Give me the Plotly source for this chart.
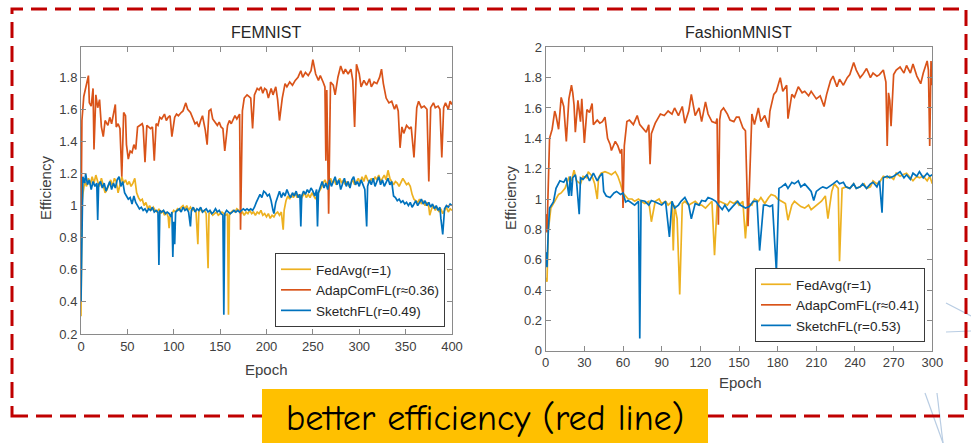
import plotly.graph_objects as go

# ---------------- data (epoch, efficiency) ----------------
FEM_NAMES = ["FedAvg(r=1)", "AdapComFL(r≈0.36)", "SketchFL(r=0.49)"]
FASH_NAMES = ["FedAvg(r=1)", "AdapComFL(r≈0.41)", "SketchFL(r=0.53)"]
FEM_XTICKS = [0, 50, 100, 150, 200, 250, 300, 350, 400]
FASH_XTICKS = [0, 30, 60, 90, 120, 150, 180, 210, 240, 270, 300]

FEM_FEDAVG = [(0,0.31),(1,1.0),(2,1.07),(4,1.15),(6,1.12),(8,1.17),(10,1.13),(12,1.18),(14,1.14),(16,1.19),(18,1.15),
 (20,1.12),(22,1.17),(24,1.13),(26,1.08),(28,1.10),(30,1.13),(32,1.16),(34,1.12),(36,1.17),(38,1.15),(40,1.08),
 (42,1.13),(44,1.18),(46,1.14),(48,1.16),(50,1.13),(52,1.15),(54,1.12),(56,1.14),(58,1.17),(60,1.08),(62,1.05),
 (64,1.03),(66,1.04),(68,1.0),(70,1.02),(72,0.98),(74,1.0),(76,0.97),(78,0.99),(80,0.97),(82,0.96),(84,0.98),
 (86,0.95),(88,0.97),(90,0.94),(92,0.96),(94,0.93),(95,0.86),(96,0.93),(98,0.95),(100,0.97),(102,0.96),(104,0.98),
 (106,0.97),(108,0.99),(110,1.0),(112,0.98),(114,1.0),(116,0.97),(118,0.99),(120,0.97),(122,0.98),(124,0.96),
 (126,0.76),(127,0.96),(129,0.98),(131,0.96),(133,0.97),(135,0.95),(137,0.61),(138,0.95),(140,0.96),(142,0.94),
 (144,0.95),(146,0.96),(148,0.94),(150,0.95),(152,0.96),(154,0.95),(156,0.94),(158,0.95),(159,0.32),(160,0.94),
 (162,0.96),(164,0.97),(166,0.96),(168,0.98),(170,0.97),(172,0.95),(174,0.96),(176,0.94),(178,0.96),(180,0.95),
 (182,0.97),(184,0.95),(186,0.96),(188,0.94),(190,0.96),(192,0.95),(194,0.97),(196,0.94),(198,0.95),(200,0.93),
 (202,0.95),(204,0.92),(206,0.94),(208,0.93),(210,0.95),(212,0.96),(214,0.94),(216,0.96),(218,0.85),(219,0.97),
 (221,1.03),(223,1.06),(225,1.04),(227,1.07),(229,1.05),(231,1.08),(233,1.05),(235,1.07),(237,1.04),(239,1.06),
 (241,1.08),(243,1.05),(245,1.07),(247,1.05),(249,1.08),(251,1.06),(253,1.04),(255,1.07),(257,1.09),(259,1.11),
 (261,1.14),(263,1.16),(265,1.13),(267,1.15),(269,1.17),(271,1.14),(273,1.16),(275,1.13),(277,1.15),(279,1.17),
 (281,1.14),(283,1.16),(285,1.13),(287,1.15),(289,1.12),(291,1.14),(293,1.16),(295,1.13),(297,1.15),(299,1.17),
 (301,1.14),(303,1.18),(305,1.15),(307,1.19),(309,1.16),(311,1.14),(313,1.17),(315,1.15),(317,1.18),(319,1.16),
 (321,1.19),(323,1.15),(325,1.17),(327,1.19),(329,1.16),(331,1.22),(333,1.17),(335,1.15),(337,1.13),(339,1.15),
 (341,1.14),(343,1.12),(345,1.15),(347,1.17),(349,1.15),(351,1.13),(353,1.14),(355,1.12),(357,1.07),(359,1.04),
 (361,1.03),(363,1.02),(365,1.04),(367,1.01),(369,1.03),(371,1.0),(373,1.02),(375,0.99),(376,0.94),(378,0.98),
 (380,1.0),(382,0.97),(384,0.99),(386,0.96),(388,0.98),(390,0.95),(392,0.97),(394,0.99),(396,0.96),(398,0.98),(400,0.97)]

FEM_ADAP = [(0,0.85),(1,1.53),(3,1.68),(5,1.74),(8,1.81),(9,1.64),(11,1.62),(13,1.73),(14,1.35),(16,1.69),(18,1.61),
 (20,1.66),(22,1.49),(24,1.43),(26,1.53),(29,1.50),(31,1.55),(33,1.51),(35,1.56),(37,1.63),(38,1.49),(40,1.51),
 (42,1.48),(44,1.18),(46,1.58),(48,1.56),(49,1.38),(51,1.29),(53,1.34),(55,1.33),(57,1.38),(59,1.35),(61,1.49),
 (63,1.50),(66,1.51),(67,1.49),(69,1.27),(71,1.50),(73,1.49),(75,1.48),(77,1.49),(79,1.28),(81,1.51),(83,1.50),
 (85,1.55),(87,1.54),(90,1.57),(92,1.53),(94,1.55),(96,1.56),(98,1.43),(101,1.55),(103,1.57),(105,1.56),(108,1.58),
 (110,1.59),(113,1.64),(115,1.60),(118,1.58),(121,1.54),(123,1.51),(125,1.52),(127,1.49),(129,1.53),(131,1.56),
 (134,1.47),(136,1.38),(138,1.59),(140,1.60),(142,1.54),(145,1.52),(147,1.50),(149,1.52),(151,1.49),(153,1.48),
 (155,1.34),(158,1.50),(160,1.53),(162,1.51),(164,1.54),(166,1.56),(168,1.54),(171,1.57),(172,0.85),(174,1.59),
 (176,1.67),(179,1.69),(181,1.68),(183,1.67),(185,1.48),(187,1.69),(190,1.73),(192,1.72),(194,1.74),(196,1.70),
 (198,1.73),(200,1.72),(202,1.67),(205,1.73),(207,1.69),(210,1.74),(212,1.66),(214,1.53),(217,1.67),(220,1.76),
 (222,1.74),(225,1.77),(228,1.75),(231,1.78),(234,1.80),(237,1.84),(239,1.80),(242,1.83),(245,1.81),(248,1.84),
 (250,1.91),(253,1.82),(256,1.78),(258,1.81),(261,1.77),(263,1.74),(264,1.28),(265,1.72),(267,0.95),(269,1.77),
 (272,1.75),(274,1.69),(277,1.80),(280,1.87),(283,1.82),(285,1.85),(288,1.82),(291,1.85),(293,1.78),(295,1.49),
 (297,1.88),(300,1.82),(302,1.74),(305,1.78),(308,1.75),(311,1.79),(313,1.74),(316,1.77),(319,1.76),(322,1.80),
 (324,1.85),(326,1.76),(329,1.67),(332,1.64),(335,1.65),(338,1.60),(340,1.63),(342,1.59),(344,1.36),(346,1.49),
 (348,1.45),(351,1.50),(354,1.48),(356,1.49),(359,1.30),(362,1.61),(364,1.65),(367,1.61),(370,1.62),(373,1.60),
 (375,1.15),(377,1.61),(380,1.64),(382,1.61),(385,1.62),(387,1.60),(389,1.30),(391,1.61),(393,1.64),(396,1.60),
 (398,1.65),(400,1.63)]

FEM_SKETCH = [(0,0.40),(1,1.05),(2,1.18),(4,1.14),(5,1.20),(7,1.13),(9,1.16),(11,1.10),(13,1.15),(15,1.12),(17,1.14),
 (18,0.91),(19,1.13),(21,1.15),(23,1.11),(25,1.14),(27,1.09),(29,1.12),(31,1.15),(33,1.10),(35,1.14),(37,1.11),
 (39,1.16),(41,1.18),(43,1.12),(45,1.15),(47,1.08),(49,1.06),(51,1.04),(53,1.05),(55,1.01),(57,1.06),(59,1.02),
 (61,1.00),(63,0.98),(65,0.99),(67,0.97),(69,0.98),(71,0.96),(73,0.98),(75,0.97),(77,0.99),(79,0.96),(81,0.97),
 (83,0.96),(84,0.63),(85,0.97),(87,0.96),(89,0.97),(91,0.95),(93,0.96),(95,0.95),(97,0.93),(98,0.96),(99,0.68),
 (100,0.90),(101,0.76),(102,0.96),(104,0.97),(106,0.98),(108,0.96),(110,0.99),(112,0.97),(114,0.98),(116,0.96),
 (118,0.87),(119,0.97),(121,0.99),(123,0.96),(125,0.98),(127,0.97),(129,0.99),(131,0.96),(133,0.97),(135,0.98),
 (137,0.96),(139,0.97),(141,0.95),(143,0.96),(145,0.98),(147,0.96),(149,0.97),(151,0.95),(153,0.94),(154,0.32),
 (155,0.95),(157,0.97),(159,0.96),(161,0.95),(163,0.96),(165,0.97),(167,0.96),(169,0.97),(171,0.96),(173,0.97),
 (175,0.98),(177,0.97),(179,0.98),(181,0.97),(183,0.98),(185,0.97),(187,0.99),(189,1.02),(191,1.05),(193,1.07),
 (195,1.05),(197,1.09),(199,1.08),(201,1.06),(203,1.07),(205,1.03),(207,0.97),(208,0.95),(210,1.02),(212,1.06),
 (214,1.09),(216,1.05),(218,1.08),(220,1.06),(222,1.10),(224,1.07),(226,1.05),(228,1.08),(230,1.06),(232,1.09),
 (234,1.05),(236,1.07),(237,0.87),(238,1.06),(240,1.09),(242,1.07),(244,1.10),(246,1.08),(248,1.11),(250,1.09),
 (252,1.06),(254,1.10),(255,0.87),(256,1.08),(258,1.12),(260,1.15),(262,1.11),(264,1.14),(266,1.10),(268,1.16),
 (270,1.12),(272,1.15),(274,1.18),(276,1.13),(278,1.16),(280,1.10),(282,1.14),(284,1.17),(286,1.12),(288,1.15),
 (290,1.11),(292,1.16),(294,1.18),(296,1.13),(298,1.15),(300,1.12),(302,1.16),(304,1.13),(306,1.10),(308,0.87),
 (309,1.12),(311,1.16),(313,1.13),(315,1.17),(317,1.12),(319,1.15),(321,1.18),(323,1.13),(325,1.16),(327,1.12),
 (329,1.15),(331,1.17),(333,1.13),(335,1.15),(337,1.06),(339,1.05),(341,1.03),(343,1.04),(345,1.02),(347,1.03),
 (349,1.01),(351,1.02),(353,1.0),(355,1.02),(357,0.99),(359,1.01),(361,1.03),(363,1.0),(365,1.02),(367,1.04),
 (369,1.01),(371,1.03),(373,1.0),(375,1.02),(377,0.99),(379,1.01),(381,0.98),(383,1.0),(385,0.97),(387,0.99),
 (388,0.92),(390,0.82),(392,0.98),(394,1.0),(396,0.99),(398,1.01),(400,1.0)]

FASH_FEDAVG = [(0,0.48),(1,0.455),(2,0.79),(4,0.94),(7,0.985),(10,1.03),(12,1.04),(15,1.07),(18,1.14),(20,1.12),
 (22,1.19),(24,1.12),(27,1.10),(29,1.15),(32,1.14),(33,1.18),(36,1.15),(38,1.10),(40,1.00),(41,1.14),(43,1.17),
 (46,1.18),(49,1.17),(51,1.16),(54,1.18),(56,1.15),(58,1.10),(60,1.04),(62,1.02),(64,1.0),(67,1.0),(69,0.985),
 (72,1.0),(74,0.985),(77,0.97),(80,0.985),(82,0.85),(85,0.985),(88,1.0),(90,0.97),(93,0.985),(95,0.96),(98,0.985),
 (99,0.66),(100,0.96),(102,0.87),(104,0.37),(106,0.97),(108,0.985),(111,0.96),(113,0.97),(116,0.985),(119,0.96),
 (121,0.96),(124,0.94),(126,0.96),(129,0.985),(131,0.63),(133,0.96),(135,0.985),(138,0.97),(141,0.96),(143,0.985),
 (146,0.97),(148,0.985),(150,0.96),(153,0.985),(155,0.74),(157,0.97),(160,0.96),(162,1.0),(165,0.985),(167,1.01),
 (170,0.97),(173,1.01),(175,1.03),(178,1.02),(180,1.0),(183,0.985),(186,0.97),(188,0.86),(191,0.96),(193,0.985),
 (196,0.96),(198,0.95),(201,0.94),(204,0.96),(206,0.93),(209,0.95),(211,0.96),(214,0.985),(217,1.02),(219,0.87),
 (222,1.05),(224,1.10),(227,1.07),(228,0.59),(230,1.07),(233,1.08),(236,1.07),(239,1.10),(241,1.07),(244,1.08),
 (247,1.10),(249,1.07),(252,1.08),(254,1.12),(257,1.10),(259,1.11),(262,1.15),(265,1.14),(267,1.15),(270,1.13),
 (272,1.17),(275,1.15),(277,1.16),(280,1.17),(283,1.14),(285,1.12),(288,1.15),(290,1.14),(293,1.15),(296,1.12),
 (298,1.15),(300,1.10)]

FASH_ADAP = [(0,0.90),(1,0.78),(3,1.40),(5,1.46),(7,1.58),(8,1.55),(10,1.46),(12,1.67),(14,1.61),(16,1.38),(18,1.66),
 (20,1.75),(21,1.70),(22,1.62),(23,1.44),(25,1.65),(27,1.51),(28,1.66),(30,1.37),(32,1.59),(34,1.57),(36,1.63),
 (37,1.49),(40,1.52),(42,1.50),(44,1.51),(46,1.54),(48,1.40),(50,1.36),(51,1.32),(54,1.38),(56,1.35),(58,1.30),
 (59,1.33),(60,0.94),(61,1.35),(63,1.51),(65,1.52),(68,1.49),(71,1.55),(73,1.49),(76,1.46),(78,1.44),(80,1.49),
 (81,1.23),(82,1.43),(85,1.50),(89,1.56),(92,1.55),(95,1.58),(98,1.56),(100,1.60),(103,1.55),(106,1.61),(108,1.50),
 (111,1.58),(113,1.69),(116,1.55),(119,1.60),(121,1.51),(124,1.64),(126,1.56),(129,1.51),(132,1.50),(133,1.53),
 (134,0.83),(135,1.52),(136,1.58),(138,1.60),(141,1.56),(143,1.52),(146,1.51),(148,1.54),(150,1.54),(153,1.47),
 (155,1.45),(157,0.82),(160,1.56),(162,1.49),(165,1.60),(167,1.51),(170,1.55),(173,1.47),(174,1.58),(177,1.69),
 (179,1.71),(182,1.80),(184,1.71),(187,1.75),(188,1.53),(191,1.69),(193,1.67),(196,1.74),(199,1.70),(201,1.71),
 (204,1.68),(206,1.71),(210,1.66),(213,1.68),(216,1.61),(218,1.69),(221,1.78),(223,1.81),(226,1.74),(228,1.79),
 (231,1.75),(234,1.80),(236,1.82),(239,1.90),(241,1.85),(244,1.80),(246,1.82),(249,1.86),(252,1.80),(254,1.83),
 (257,1.81),(259,1.82),(262,1.85),(264,1.77),(265,1.35),(266,1.70),(267,1.65),(268,1.48),(270,1.82),(272,1.85),
 (275,1.87),(278,1.83),(280,1.88),(283,1.83),(285,1.89),(288,1.81),(291,1.76),(293,1.83),(296,1.91),(297,1.85),
 (298,1.35),(299,1.91),(300,1.75)]

FASH_SKETCH = [(0,0.65),(1,0.55),(2,0.79),(3,0.94),(6,0.98),(8,1.07),(11,1.12),(14,1.11),(16,1.14),(18,1.02),(19,1.15),
 (20,1.02),(21,1.14),(23,1.16),(24,1.11),(26,0.90),(27,1.14),(29,1.13),(32,1.16),(34,1.12),(37,1.17),(40,1.12),
 (42,1.15),(44,1.17),(45,1.05),(47,1.02),(50,1.01),(53,1.04),(55,1.05),(58,1.03),(60,1.04),(62,0.98),(64,0.99),
 (67,0.97),(69,0.96),(72,0.985),(73,0.08),(74,0.99),(77,0.985),(80,0.96),(82,0.99),(85,0.98),(88,0.97),(90,0.96),
 (93,0.985),(96,0.75),(98,0.985),(100,0.94),(103,0.96),(105,0.985),(108,1.01),(111,0.96),(113,0.87),(116,0.97),
 (119,0.96),(121,0.99),(124,0.985),(126,1.01),(129,1.0),(132,0.985),(134,0.96),(137,0.93),(139,0.96),(142,0.92),
 (145,0.95),(147,0.97),(149,0.985),(151,0.96),(155,0.94),(158,0.95),(161,0.985),(164,0.985),(166,0.66),(169,0.96),
 (171,0.96),(174,0.95),(176,0.96),(179,0.52),(181,1.07),(183,1.08),(186,1.10),(188,1.07),(191,1.11),(193,1.10),
 (196,1.12),(198,1.08),(201,1.10),(204,1.07),(206,1.05),(208,0.99),(210,1.05),(213,1.07),(215,1.08),(218,1.07),
 (220,1.08),(223,1.10),(226,1.12),(228,1.10),(231,1.11),(233,1.08),(236,1.07),(239,1.10),(241,1.07),(244,1.08),
 (246,1.10),(249,1.07),(252,1.10),(254,1.11),(257,1.08),(259,1.12),(261,0.91),(262,1.14),(265,1.15),(267,1.14),
 (270,1.15),(272,1.16),(275,1.18),(278,1.14),(280,1.16),(283,1.13),(285,1.17),(288,1.15),(290,1.18),(293,1.14),
 (296,1.17),(298,1.15),(300,1.16)]

# ---------------- styling ----------------
W, H = 971, 443
COLORS = ["#EDB120", "#D95319", "#0072BD"]
FONT = "Arial, Liberation Sans, Helvetica, sans-serif"
AX_LINE = "#8a8a8a"
TXT = "#404040"


def px(x):
    return x / W


def py(y):
    return 1 - y / H


fig = go.Figure()
for names, groups, xa, ya, leg in [
    (FEM_NAMES, [FEM_FEDAVG, FEM_ADAP, FEM_SKETCH], "x", "y", "legend"),
    (FASH_NAMES, [FASH_FEDAVG, FASH_ADAP, FASH_SKETCH], "x2", "y2", "legend2"),
]:
    for name, data, color in zip(names, groups, COLORS):
        xs = [d[0] for d in data]
        ys = [d[1] for d in data]
        fig.add_trace(go.Scatter(x=xs, y=ys, mode="lines", name=name,
                                 line=dict(color=color, width=1.7),
                                 xaxis=xa, yaxis=ya, legend=leg))

axis_common = dict(showgrid=False, zeroline=False, showline=True, linecolor=AX_LINE, linewidth=1,
                   mirror="ticks", ticks="inside", ticklen=5, tickcolor=AX_LINE, automargin=False,
                   tickfont=dict(family=FONT, size=13, color=TXT))

legend_common = dict(bgcolor="white", bordercolor="#3a3a3a", borderwidth=1,
                     font=dict(family=FONT, size=13.5, color="#262626"),
                     xanchor="right", yanchor="bottom", tracegroupgap=0, itemwidth=30)

fig.update_layout(
    template="none",
    width=W, height=H, margin=dict(l=0, r=0, t=0, b=0, pad=0, autoexpand=False),
    paper_bgcolor="white", plot_bgcolor="white", showlegend=True,
    xaxis=dict(domain=[px(81), px(452)], range=[0, 400], tickvals=FEM_XTICKS, anchor="y", **axis_common),
    yaxis=dict(domain=[py(334), py(46.7)], range=[0.2, 1.99], tick0=0.2, dtick=0.2, anchor="x", **axis_common),
    xaxis2=dict(domain=[px(545.7), px(932.3)], range=[0, 300], tickvals=FASH_XTICKS, anchor="y2", **axis_common),
    yaxis2=dict(domain=[py(350.7), py(47.3)], range=[0, 2], tick0=0, dtick=0.2, anchor="x2", **axis_common),
    legend=dict(x=px(445), y=py(327), **legend_common),
    legend2=dict(x=px(925), y=py(342), **legend_common),
)


def label(text, x, y, font, angle=0):
    fig.add_annotation(text=text, x=px(x), y=py(y), xref="paper", yref="paper", showarrow=False,
                       xanchor="center", yanchor="middle", textangle=angle, font=font)


ann_font = dict(family=FONT, size=16, color="#262626")
lab_font = dict(family=FONT, size=15, color=TXT)
label("FEMNIST", 266, 32, ann_font)
label("FashionMNIST", 738, 32, ann_font)
label("Epoch", 266, 369, lab_font)
label("Epoch", 740, 382, lab_font)
label("Efficiency", 45, 188, lab_font, -90)
label("Efficiency", 510, 198, lab_font, -90)

# decorative slide lines at the right edge
for x0, y0, x1, y1 in [(946, 303, 971, 316), (946, 332, 971, 331), (925, 393, 943, 443), (937, 393, 943, 443)]:
    fig.add_shape(type="line", x0=px(x0), y0=py(y0), x1=px(x1), y1=py(y1), xref="paper", yref="paper",
                  line=dict(color="#b9cde3", width=1.2), layer="below")

# dashed red frame
fig.add_shape(type="rect", x0=px(12), y0=py(416), x1=px(966), y1=py(9), xref="paper", yref="paper",
              line=dict(color="#C00000", width=3, dash="16px,8px"), fillcolor="rgba(0,0,0,0)")
# yellow banner
fig.add_shape(type="rect", x0=px(262), y0=py(443), x1=px(708), y1=py(389), xref="paper", yref="paper",
              line=dict(width=0), fillcolor="#FFC000")
label("better efficiency (red line)", 485, 418,
      dict(family="Comic Sans MS, Comic Neue, Noto Sans, sans-serif", size=36, color="black"))

fig.write_html("out.html", config={"displayModeBar": False},
               post_script="document.body.style.margin='0';document.body.style.overflow='hidden';")
